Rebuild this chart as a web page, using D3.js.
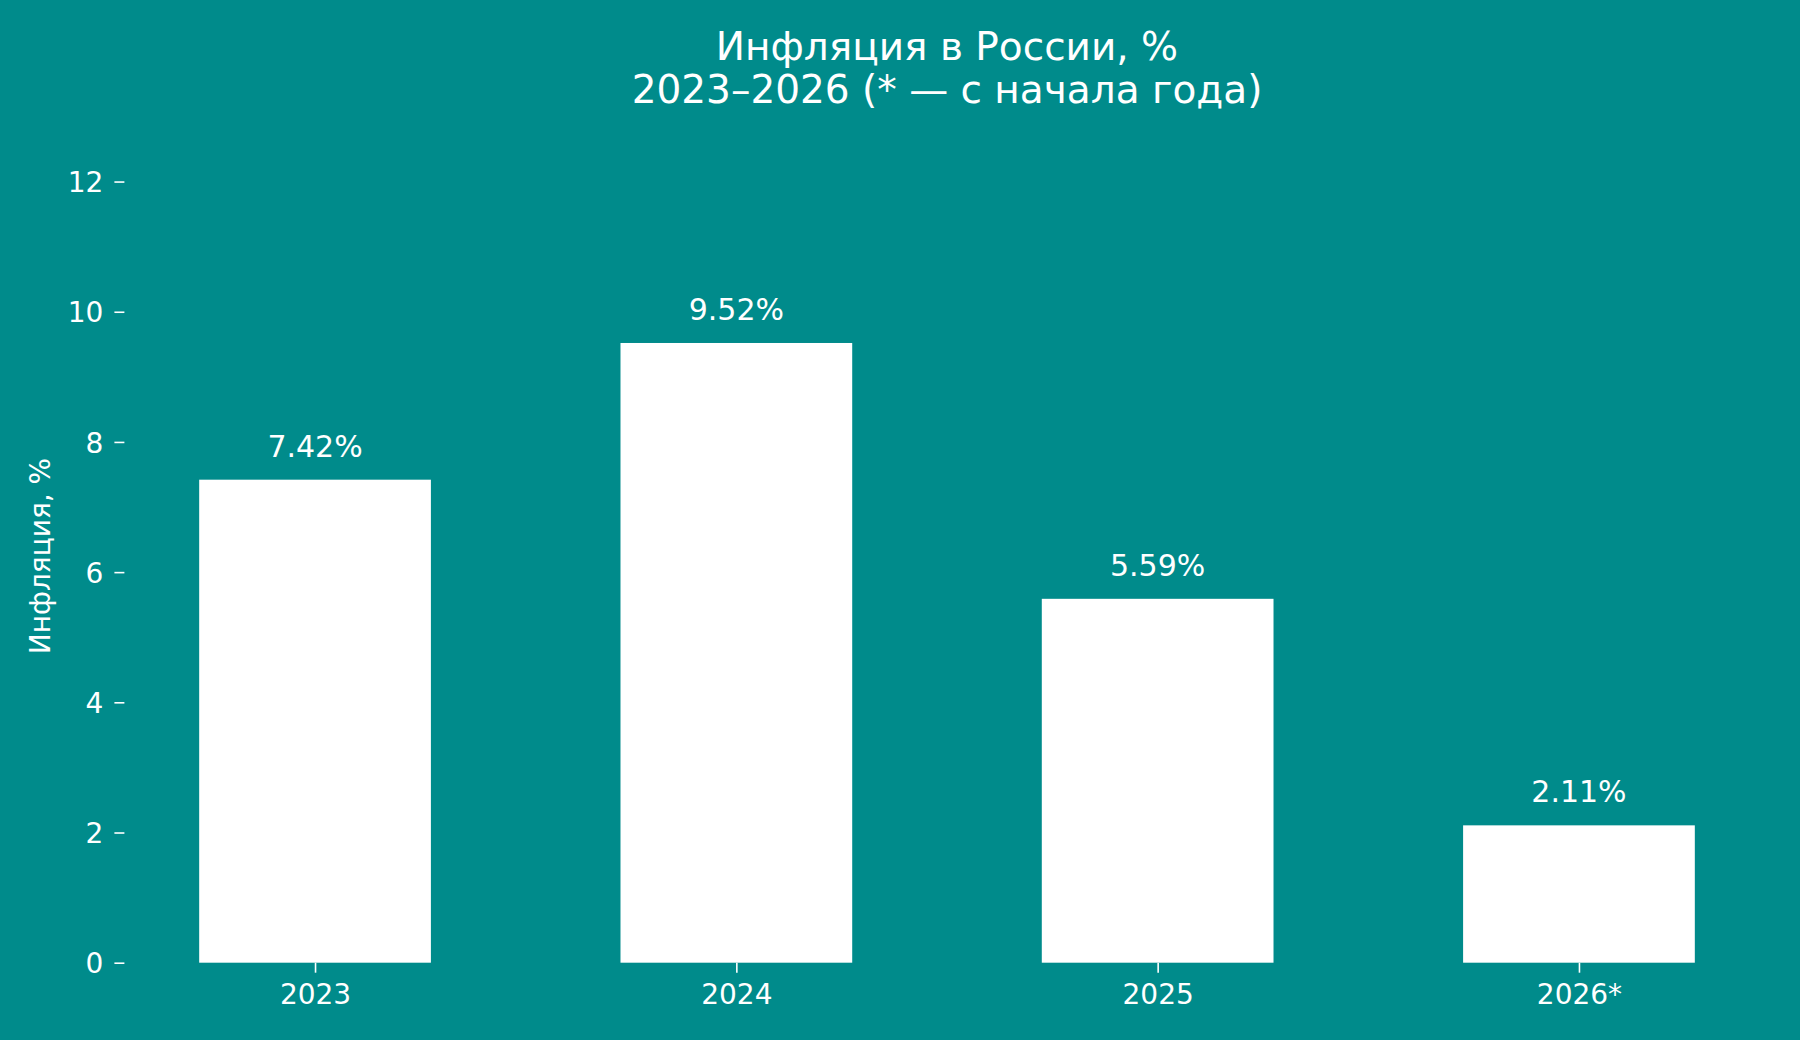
<!DOCTYPE html>
<html>
<head>
<meta charset="utf-8">
<script src="https://cdn.jsdelivr.net/npm/d3@7"></script>
<style>
    body { margin: 0; background: #008b8b; }
    svg { display: block; font-family: "DejaVu Sans", sans-serif; }
    .axis text { fill: #fff; font-size: 28px; font-family: "DejaVu Sans", sans-serif; }
    .axis line { stroke: #fff; stroke-width: 1.6; }
    .axis path { display: none; }
</style>
</head>
<body>
<div class="chart-main"></div>
<script>

//////////
// DATA //
//////////

var years = ['2023', '2024', '2025', '2026*'];
var inflation = [7.42, 9.52, 5.59, 2.11];
var yTicks = [0, 2, 4, 6, 8, 10, 12];
var titleLines = ['Инфляция в России, %', '2023–2026 (* — с начала года)'];
var yLabel = 'Инфляция, %';

////////////////
// DIMENSIONS //
////////////////

var w = 1800,
    h = 1040;

// plot area edges (window.top is reserved, hence the prefix)
var plotLeft = 124.4,
    plotRight = 1769.6,
    plotTop = 149,
    plotBottom = 962.7;

var svg = d3.select('.chart-main')
    .append('svg')
    .attr('width', w)
    .attr('height', h);

svg.append('rect')
    .attr('width', w)
    .attr('height', h)
    .attr('fill', '#008b8b');

////////////
// SCALES //
////////////

var barW = 0.55;

var xScale = d3.scaleLinear()
    .domain([-0.4525, years.length - 1 + 0.4525])
    .range([plotLeft, plotRight]);

var yScale = d3.scaleLinear()
    .domain([0, 12.5])
    .range([plotBottom, plotTop]);

//////////
// BARS //
//////////

svg.selectAll('.bar')
    .data(inflation)
    .enter()
    .append('rect')
    .attr('class', 'bar')
    .attr('x', function(d, i) { return xScale(i - barW / 2); })
    .attr('y', function(d) { return yScale(d); })
    .attr('width', function(d, i) { return xScale(i + barW / 2) - xScale(i - barW / 2); })
    .attr('height', function(d) { return yScale(0) - yScale(d); })
    .attr('fill', '#fff');

svg.selectAll('.bar-label')
    .data(inflation)
    .enter()
    .append('text')
    .attr('class', 'bar-label')
    .attr('x', function(d, i) { return xScale(i); })
    .attr('y', function(d) { return yScale(d) - 23; })
    .attr('text-anchor', 'middle')
    .attr('fill', '#fff')
    .style('font-size', '30px')
    .text(function(d) { return d.toFixed(2) + '%'; });

//////////
// AXIS //
//////////

var xAxis = d3.axisBottom(xScale)
    .tickValues(d3.range(years.length))
    .tickFormat(function(i) { return years[i]; })
    .tickSize(10)
    .tickPadding(10);

svg.append('g')
    .attr('class', 'axis')
    .attr('transform', 'translate(0,' + plotBottom + ')')
    .call(xAxis)
    .selectAll('text')
    .attr('dy', null)
    .attr('y', 41);

var yAxis = d3.axisLeft(yScale)
    .tickValues(yTicks)
    .tickSize(10)
    .tickPadding(11);

svg.append('g')
    .attr('class', 'axis')
    .attr('transform', 'translate(' + plotLeft + ',0)')
    .call(yAxis)
    .selectAll('text')
    .attr('dy', '0.36em');

svg.append('text')
    .attr('transform', 'translate(50,556) rotate(-90)')
    .attr('text-anchor', 'middle')
    .attr('fill', '#fff')
    .style('font-size', '28px')
    .text(yLabel);

///////////
// TITLE //
///////////

svg.selectAll('.title')
    .data(titleLines)
    .enter()
    .append('text')
    .attr('class', 'title')
    .attr('x', (plotLeft + plotRight) / 2)
    .attr('y', function(d, i) { return 60 + i * 43.3; })
    .attr('text-anchor', 'middle')
    .attr('fill', '#fff')
    .style('font-size', '39px')
    .text(function(d) { return d; });

</script>
</body>
</html>
